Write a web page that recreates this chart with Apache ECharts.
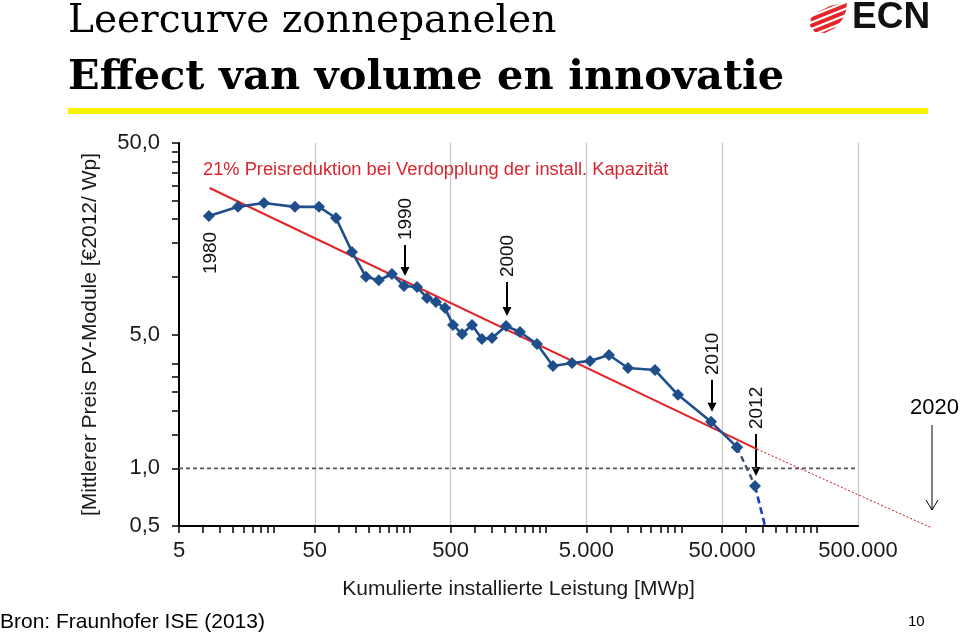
<!DOCTYPE html>
<html><head><meta charset="utf-8">
<script src="https://cdn.jsdelivr.net/npm/echarts@6/dist/echarts.min.js"></script>
<style>html,body{margin:0;padding:0;background:#fff}#c{width:960px;height:636px}</style>
</head><body><div id="c"></div>
<script>
// ---- data ----
const xCap = [8.3, 13.6, 21.1, 35.7, 53.7, 71.6, 94, 119, 148, 185, 227, 283, 335, 390, 455, 521, 607, 719, 851, 1009, 1280, 1622, 2163, 2838, 3915, 5314, 7337, 10120, 16000, 23620, 41380, 64260, 87240];
const yPrice = [20.8, 23.2, 24.3, 23.2, 23.2, 20.3, 13.5, 10.0, 9.6, 10.35, 8.96, 8.85, 7.76, 7.39, 6.87, 5.61, 5.03, 5.61, 4.74, 4.79, 5.54, 5.15, 4.46, 3.42, 3.55, 3.64, 3.91, 3.34, 3.26, 2.42, 1.75, 1.29, 0.81];
const solidCount = 32;            // points drawn with a solid line
const projX = [87240, 103300];
const projY = [0.81, 0.5];
const trendX = [8.4, 90300];
const trendY = [29.1, 1.26];
const trendExtX = [90300, 1750000];
const trendExtY = [1.26, 0.488];
const refX = [5, 500000];
const refY = [1, 1];
const xTickLabelVals = [5, 50, 500, 5000, 50000, 500000];
const xTickLabels = ['5', '50', '500', '5.000', '50.000', '500.000'];
const xGridVals = [50, 500, 5000, 50000, 500000];
const xMinorMult = [10, 15, 20, 25, 30, 35, 40, 45, 50];
const xDecades = [0.5, 5, 50, 500, 5000];
const yTickLabelVals = [0.5, 1, 5, 50];
const yTickLabels = ['0,5', '1,0', '5,0', '50,0'];
const yTickVals = [0.5, 1, 1.5, 2, 2.5, 3, 3.5, 5, 10, 15, 20, 25, 30, 35, 40, 45, 50];
const annotYears = ['1980', '1990', '2000', '2010', '2012'];
const annotIdx = [0, 10, 20, 30, 32];
const annotArrowLen = [0, 31, 34, 32, 42];

const SANS = "'Liberation Sans', Arial, sans-serif";
const SERIF = "'DejaVu Serif', Georgia, serif";

const xTickVals = [5];
xDecades.forEach(d => xMinorMult.forEach(m => xTickVals.push(d * m)));

function pairs(xs, ys) { return xs.map((x, i) => [x, ys[i]]); }
function labelFor(vals, labels, v) {
  for (let i = 0; i < vals.length; i++) if (Math.abs(vals[i] - v) / vals[i] < 1e-6) return labels[i];
  return '';
}
const allPts = pairs(xCap, yPrice);

// main plot: 5..500000 over 679px, 0.5..50 over 383px
const G = {left: 179, top: 143, width: 679, height: 383};
const decX = G.width / 5, decY = G.height / 2;
// helper grid with the same scale but a wider extent (0.5 .. 2e6, 0.25 .. 50)
const G2 = {left: G.left - decX, top: G.top, width: decX * Math.log10(2e6 / 0.5), height: decY * Math.log10(50 / 0.25)};

const chart = echarts.init(document.getElementById('c'), null, {renderer: 'canvas'});
const hiddenAxis = {axisLine: {show: false}, axisTick: {show: false}, axisLabel: {show: false}, splitLine: {show: false}};
const option = {
  animation: false,
  backgroundColor: '#fff',
  grid: [
    {left: G.left, top: G.top, width: G.width, height: G.height, containLabel: false},
    {left: G2.left, top: G2.top, width: G2.width, height: G2.height, containLabel: false}
  ],
  xAxis: [{
    type: 'log', logBase: 10, min: 5, max: 500000, position: 'bottom', gridIndex: 0,
    axisLine: {show: true, lineStyle: {color: '#000', width: 2}},
    axisTick: {show: true, inside: false, length: 7, customValues: xTickVals, lineStyle: {color: '#000', width: 1.5}},
    axisLabel: {show: true, customValues: xTickLabelVals, margin: 14, fontSize: 22, color: '#1a1a1a', fontFamily: SANS,
      formatter: v => labelFor(xTickLabelVals, xTickLabels, v)},
    splitLine: {show: false},
    name: 'Kumulierte installierte Leistung [MWp]', nameLocation: 'middle', nameGap: 53,
    nameTextStyle: {fontSize: 21, color: '#1a1a1a', fontFamily: SANS}
  }, {
    type: 'log', logBase: 10, min: 5, max: 500000, position: 'top', gridIndex: 0,
    axisLine: {show: false},
    axisTick: {show: false, customValues: xGridVals},
    axisLabel: {show: false},
    splitLine: {show: true, lineStyle: {color: '#c9c9c9', width: 1.3}}
  }, Object.assign({type: 'log', logBase: 10, min: 0.5, max: 2e6, gridIndex: 1}, hiddenAxis)],
  yAxis: [{
    type: 'log', logBase: 10, min: 0.5, max: 50, gridIndex: 0,
    axisLine: {show: true, lineStyle: {color: '#000', width: 2}},
    axisTick: {show: true, inside: false, length: 7, customValues: yTickVals, lineStyle: {color: '#000', width: 1.5}},
    axisLabel: {show: true, customValues: yTickLabelVals, margin: 19, fontSize: 22, color: '#1a1a1a', fontFamily: SANS,
      formatter: v => labelFor(yTickLabelVals, yTickLabels, v)},
    splitLine: {show: false},
    name: '[Mittlerer Preis PV-Module [€2012/ Wp]', nameLocation: 'middle', nameGap: 78, nameRotate: 90,
    nameTextStyle: {fontSize: 21, color: '#1a1a1a', fontFamily: SANS}
  }, Object.assign({type: 'log', logBase: 10, min: 0.25, max: 50, gridIndex: 1}, hiddenAxis)],
  series: [
    {type: 'line', xAxisIndex: 0, yAxisIndex: 0, data: pairs(refX, refY), symbol: 'none', z: 1,
      lineStyle: {color: '#555', width: 1.6, type: [4, 3]}},
    {type: 'line', xAxisIndex: 0, yAxisIndex: 0, data: pairs(trendX, trendY), symbol: 'none', z: 2,
      lineStyle: {color: '#e3262a', width: 2.2}},
    {type: 'line', xAxisIndex: 2, yAxisIndex: 1, data: pairs(trendExtX, trendExtY), symbol: 'none', z: 2,
      lineStyle: {color: '#c0141a', width: 1, type: [2, 2]}},
    {type: 'line', xAxisIndex: 0, yAxisIndex: 0, data: pairs(projX, projY), symbol: 'none', z: 3,
      lineStyle: {color: '#1a3cc8', width: 2.6, type: [7, 4]}},
    {type: 'line', xAxisIndex: 0, yAxisIndex: 0, data: allPts.slice(solidCount - 1, solidCount + 1), symbol: 'diamond', symbolSize: 12, z: 4,
      itemStyle: {color: '#1f4e8c'}, lineStyle: {color: '#3d4c68', width: 2.4, type: [6, 4]}},
    {type: 'line', xAxisIndex: 0, yAxisIndex: 0, data: allPts.slice(0, solidCount), symbol: 'diamond', symbolSize: 12, z: 5,
      itemStyle: {color: '#1f4e8c'}, lineStyle: {color: '#1f4e8c', width: 2.6}}
  ]
};
chart.setOption(option);

// ---- texts & annotations ----
function txt(x, y, text, font, fill, align, extra) {
  return Object.assign({type: 'text', x: x, y: y, style: {text: text, font: font, fill: fill, align: align || 'left', verticalAlign: 'middle'}}, extra || {});
}
const g = [];
g.push(txt(68, 22, 'Leercurve zonnepanelen', '39px ' + SERIF, '#000'));
g.push(txt(68, 78, 'Effect van volume en innovatie', 'bold 41.5px ' + SERIF, '#000'));
g.push({type: 'rect', shape: {x: 68, y: 108, width: 860, height: 6}, style: {fill: '#f7f300'}});
// ECN logo
g.push({type: 'polygon', shape: {points: [[847, 2], [846, 11], [842, 20], [835, 28], [825, 33], [815, 32], [810, 26], [811, 18], [818, 12], [830, 6]]}, style: {fill: '#e3262a'}});
[10, 16.5, 23, 29.5, 36].forEach(c => g.push({type: 'line', shape: {x1: 805, y1: c + 2, x2: 850, y2: c - 16}, style: {stroke: '#fff', lineWidth: 2}}));
g.push(txt(852, 18, 'ECN', 'bold 37px ' + SANS, '#111'));
// red annotation
g.push(txt(203, 170, '21% Preisreduktion bei Verdopplung der install. Kapazität', '18.3px ' + SANS, '#d8262e'));
// footer
g.push(txt(0, 622, 'Bron: Fraunhofer ISE (2013)', '21px ' + SANS, '#000'));
g.push(txt(908, 622, '10', '15px ' + SANS, '#000'));
// 2020
g.push(txt(910, 408, '2020', '22px ' + SANS, '#000'));
g.push({type: 'line', shape: {x1: 932, y1: 425, x2: 932, y2: 510}, style: {stroke: '#000', lineWidth: 1}});
g.push({type: 'polyline', shape: {points: [[926, 500], [932, 510], [938, 500]]}, style: {stroke: '#000', lineWidth: 1, fill: null}});

annotIdx.forEach((idx, i) => {
  const p = chart.convertToPixel({seriesIndex: 5}, [xCap[idx], yPrice[idx]]);
  const x = Math.round(p[0]) + 1;
  if (annotArrowLen[i] === 0) {
    g.push(txt(x + 1, p[1] + 37, annotYears[i], '19px ' + SANS, '#111', 'center', {rotation: Math.PI / 2}));
    return;
  }
  const tip = p[1] - 10;
  const top = tip - annotArrowLen[i];
  g.push({type: 'line', shape: {x1: x, y1: top, x2: x, y2: tip - 6}, style: {stroke: '#000', lineWidth: 2}});
  g.push({type: 'polygon', shape: {points: [[x - 4.5, tip - 9], [x + 4.5, tip - 9], [x, tip]]}, style: {fill: '#000'}});
  g.push(txt(x + 1, top - 26, annotYears[i], '19px ' + SANS, '#111', 'center', {rotation: Math.PI / 2}));
});
chart.setOption({graphic: g});
</script>
</body></html>
